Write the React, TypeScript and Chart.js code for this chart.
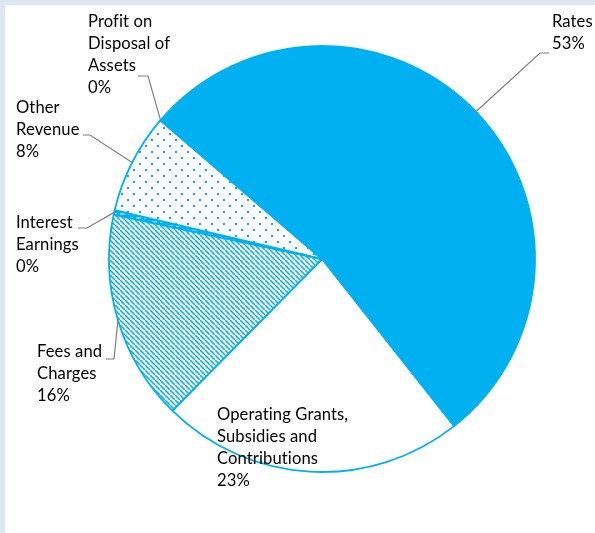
import { useEffect, useRef } from "react";
import { Chart, registerables } from "chart.js";
Chart.register(...registerables);

const categories = [
  "Rates",
  "Operating Grants, Subsidies and Contributions",
  "Fees and Charges",
  "Interest Earnings",
  "Other Revenue",
  "Profit on Disposal of Assets",
];
const labelLines = [
  ["Rates"],
  ["Operating Grants,", "Subsidies and", "Contributions"],
  ["Fees and", "Charges"],
  ["Interest", "Earnings"],
  ["Other", "Revenue"],
  ["Profit on", "Disposal of", "Assets"],
];
const shares = [53.05, 23.05, 15.95, 0.35, 7.6, 0.05];

const BLUE = "#00B0F0";
const FONT = "16.6px Lato";
const LINE_H = 22;

// label layout: text left x, first baseline y, leader polyline after arc point
const LABEL_LAYOUT = [
  { x: 552, y: 27, leader: [[540, 53], [549, 53]] },
  { x: 217, y: 420, leader: null },
  { x: 37, y: 357, leader: [[114, 359], [106, 359]] },
  { x: 16, y: 228, leader: [[87, 228], [78, 228]] },
  { x: 16, y: 113, leader: [[90, 135], [83, 135]] },
  { x: 88, y: 27, leader: [[148, 76], [138, 76]] },
];

function makePattern(kind: string): CanvasPattern | string {
  const c = document.createElement("canvas");
  const ctx = c.getContext("2d")!;
  if (kind === "hatch") {
    c.width = 5; c.height = 5;
    ctx.fillStyle = "#fff"; ctx.fillRect(0, 0, 5, 5);
    ctx.fillStyle = BLUE;
    for (let i = 0; i < 5; i++) ctx.fillRect(i, i, 1.6, 1.6);
  } else if (kind === "dots") {
    c.width = 12; c.height = 12;
    ctx.fillStyle = "#fff"; ctx.fillRect(0, 0, 12, 12);
    ctx.fillStyle = BLUE;
    ctx.fillRect(1, 1, 2, 2);
    ctx.fillRect(7, 7, 2, 2);
  } else if (kind === "dash") {
    c.width = 8; c.height = 4;
    ctx.fillStyle = BLUE; ctx.fillRect(0, 0, 8, 4);
    ctx.fillStyle = "#fff"; ctx.fillRect(0, 1.5, 5, 1);
  } else {
    return kind;
  }
  return ctx.createPattern(c, "repeat")!;
}

export default function App() {
  const ref = useRef<HTMLCanvasElement>(null);
  useEffect(() => {
    document.body.style.margin = "0";
    const total = shares.reduce((a, b) => a + b, 0);
    const pct = shares.map((v) => Math.round((v / total) * 100) + "%");
    const fills = [BLUE, "#fff", makePattern("hatch"), makePattern("dash"), makePattern("dots"), "#fff"];

    const framePlugin = {
      id: "frame",
      beforeDraw(chart: any) {
        const ctx = chart.ctx;
        ctx.save();
        ctx.fillStyle = "#DCE6F0";
        ctx.fillRect(0, 0, chart.width, chart.height);
        ctx.fillStyle = "#fff";
        ctx.fillRect(5, 5, chart.width - 5, chart.height - 5);
        ctx.restore();
      },
    };
    const labelPlugin = {
      id: "labels",
      afterDraw(chart: any) {
        const ctx = chart.ctx;
        const meta = chart.getDatasetMeta(0);
        ctx.save();
        meta.data.forEach((arc: any, i: number) => {
          const p = arc.getProps(["x", "y", "startAngle", "endAngle", "outerRadius"], true);
          const mid = (p.startAngle + p.endAngle) / 2;
          const lay = LABEL_LAYOUT[i];
          if (lay.leader) {
            ctx.strokeStyle = "#7F7F7F";
            ctx.lineWidth = 1.2;
            ctx.beginPath();
            ctx.moveTo(p.x + Math.cos(mid) * p.outerRadius, p.y + Math.sin(mid) * p.outerRadius);
            lay.leader.forEach((pt: number[]) => ctx.lineTo(pt[0], pt[1]));
            ctx.stroke();
          }
          ctx.fillStyle = "#000";
          ctx.font = FONT;
          (ctx as any).letterSpacing = "0.1px";
          ctx.textAlign = "left";
          ctx.textBaseline = "alphabetic";
          const lines = [...labelLines[i], pct[i]];
          lines.forEach((t, k) => ctx.fillText(t, lay.x, lay.y + k * LINE_H));
        });
        ctx.restore();
      },
    };

    const chart = new Chart(ref.current!, {
      type: "pie",
      data: {
        labels: categories,
        datasets: [
          {
            data: shares,
            backgroundColor: fills as any,
            borderColor: BLUE,
            borderWidth: 1.8,
          },
        ],
      },
      options: {
        animation: false,
        responsive: false,
        rotation: -49.2,
        radius: 213,
        layout: { padding: { left: 108, right: 59, top: 45, bottom: 60 } },
        plugins: { legend: { display: false }, tooltip: { enabled: false } },
        events: [],
      },
      plugins: [framePlugin, labelPlugin],
    });
    return () => chart.destroy();
  }, []);
  return <canvas ref={ref} width={595} height={533} style={{ display: "block" }} />;
}
